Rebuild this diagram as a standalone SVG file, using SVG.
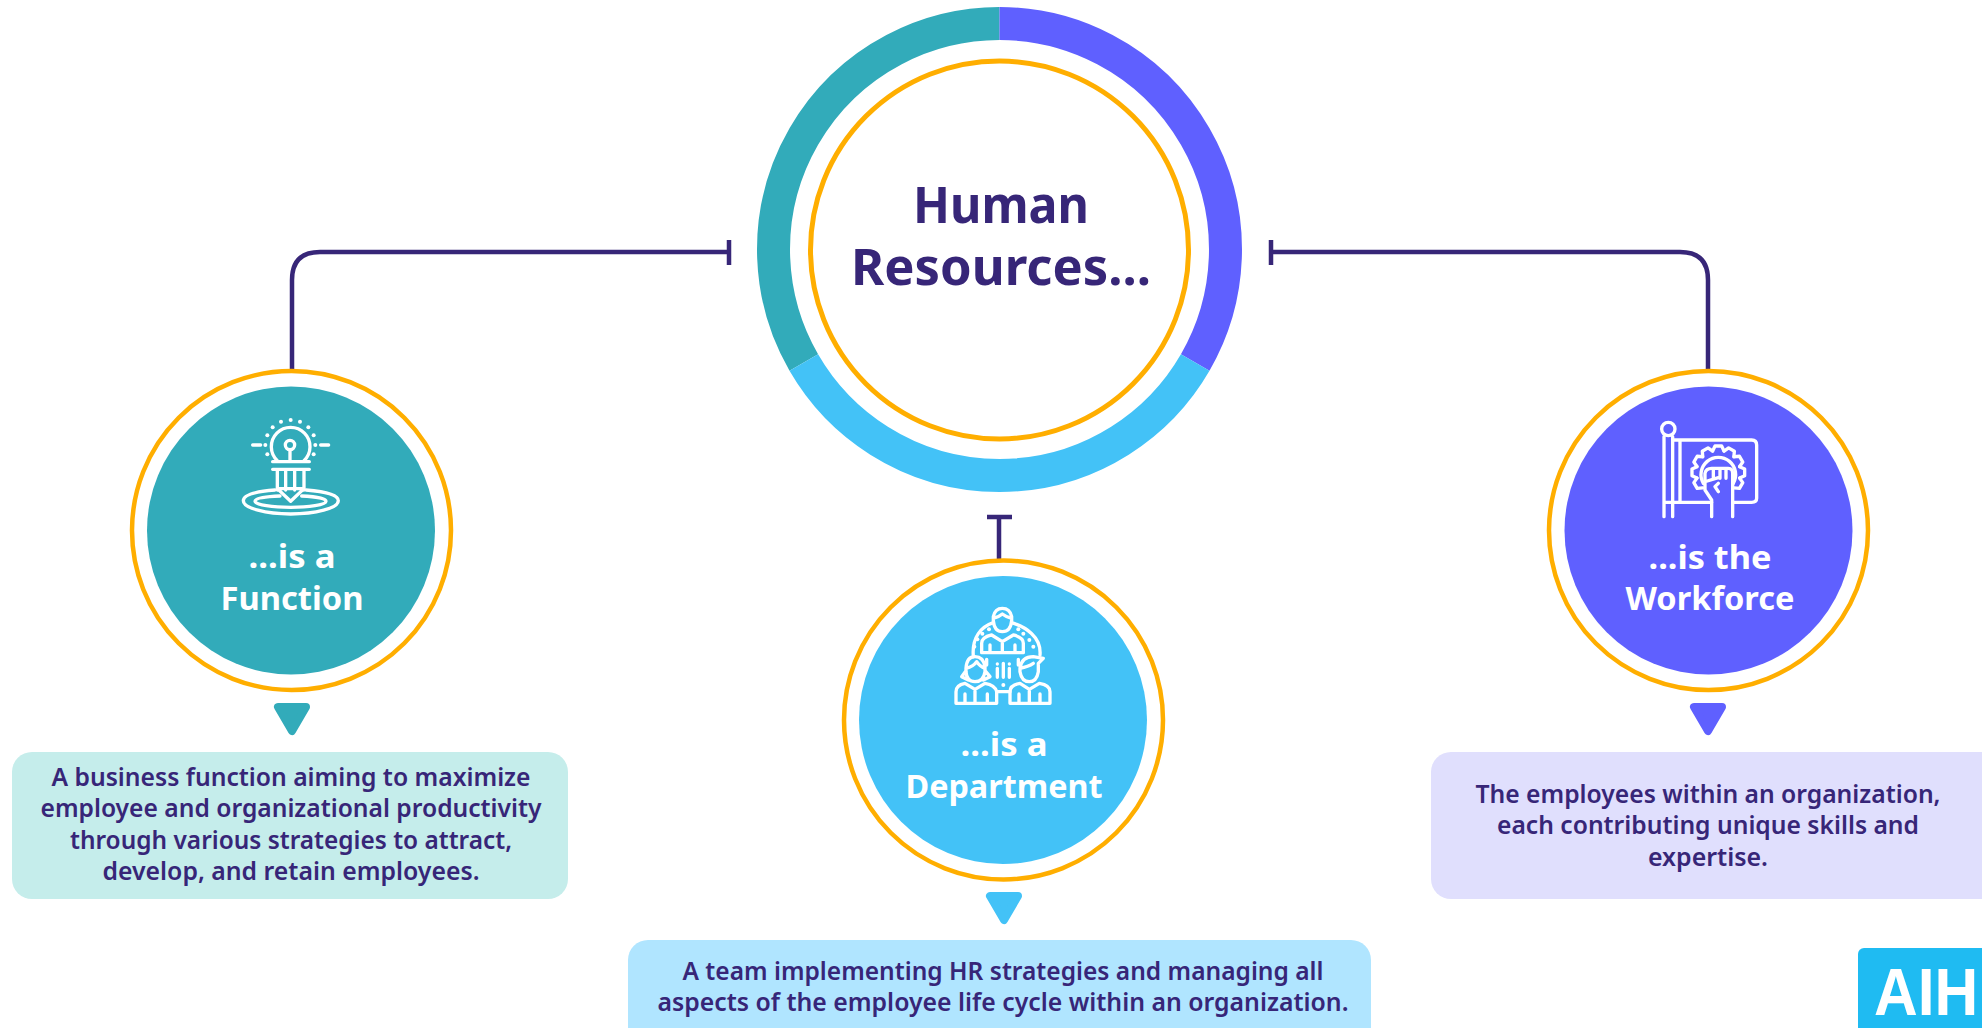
<svg xmlns="http://www.w3.org/2000/svg" xmlns:xlink="http://www.w3.org/1999/xlink" width="1982" height="1028" viewBox="0 0 1982 1028">
<style>
text{font-family:"Noto Sans","Open Sans","Liberation Sans",sans-serif;text-anchor:middle}
.hub{font-size:50px;font-weight:700;fill:#372678}
.lab{font-size:33px;font-weight:700;fill:#fff}
.body{font-size:25px;font-weight:600;fill:#372678}
.ring{fill:none;stroke:#ffae00;stroke-width:4.5}
.conn{fill:none;stroke:#372678;stroke-width:4.5}
.ico{fill:none;stroke:#fff;stroke-width:10;stroke-linecap:round;stroke-linejoin:round}
.dot{fill:#fff;stroke:none}
.tri{stroke-width:8;stroke-linejoin:round}
</style>
<defs>
<path id="tooth" d="M-17 -64L-10 -79H10L17 -64"/>
</defs>
<rect width="1982" height="1028" fill="#fff"/>
<g id="connectors">
<path class="conn" d="M292 370V280Q292 252 320 252H729M729 240V265"/>
<path class="conn" d="M1708 370V280Q1708 252 1680 252H1271M1271 240V265"/>
<path class="conn" d="M999 559V517M987 517H1012"/>
</g>
<g id="hub">
<path d="M999.5 23.5A226 226 0 0 0 803.8 362.5" fill="none" stroke="#32abba" stroke-width="33"/>
<path d="M999.5 23.5A226 226 0 0 1 1195.2 362.5" fill="none" stroke="#5f60ff" stroke-width="33"/>
<path d="M803.8 362.5A226 226 0 0 0 1195.2 362.5" fill="none" stroke="#43c2f7" stroke-width="33"/>
<circle cx="999.5" cy="250" r="189" fill="none" stroke="#ffae00" stroke-width="5"/>
<text class="hub" x="1001" y="223" textLength="176" lengthAdjust="spacingAndGlyphs">Human</text>
<text class="hub" x="1001" y="285" textLength="300" lengthAdjust="spacingAndGlyphs">Resources...</text>
</g>
<g id="node-function">
<circle class="ring" cx="291.5" cy="530.5" r="159.5"/>
<circle cx="291" cy="530.5" r="144" fill="#32abba"/>
<g transform="translate(220 410) scale(.3333)">
<g class="ico">
<path d="M172 152A58 58 0 1 1 252 152"/>
<circle cx="210" cy="105" r="14"/>
<path d="M210 119V150M158 155H268M158 178H268M172 178V240M197 178V240M224 178V240M252 178V240M172 236H252L212 274ZM98 105H122M302 105H326"/>
<path d="M165 240C100 245 70 255 70 272C70 295 140 312 212 312C285 312 355 295 355 272C355 255 320 245 258 240"/>
<path d="M180 258C130 260 105 265 105 274C105 285 160 292 212 292C265 292 318 285 318 274C318 265 290 260 245 258"/>
</g>
<g class="dot">
<circle cx="136" cy="105" r="6"/><circle cx="286" cy="105" r="6"/><circle cx="142" cy="76" r="6"/><circle cx="281" cy="76" r="6"/><circle cx="142" cy="133" r="6"/><circle cx="281" cy="133" r="6"/><circle cx="158" cy="52" r="6"/><circle cx="265" cy="52" r="6"/><circle cx="183" cy="35" r="6"/><circle cx="240" cy="35" r="6"/><circle cx="212" cy="30" r="6"/>
</g>
</g>
<text class="lab" x="292" y="568" textLength="87" lengthAdjust="spacingAndGlyphs">...is a</text>
<text class="lab" x="292" y="610" textLength="143" lengthAdjust="spacingAndGlyphs">Function</text>
<polygon class="tri" fill="#32abba" stroke="#32abba" points="278,707 306,707 292,731"/>
</g>
<g id="desc-function">
<rect x="12" y="752" width="556" height="147" rx="20" fill="#c5edeb"/>
<text class="body" x="291" y="786" textLength="479" lengthAdjust="spacingAndGlyphs">A business function aiming to maximize</text>
<text class="body" x="291" y="817" textLength="501" lengthAdjust="spacingAndGlyphs">employee and organizational productivity</text>
<text class="body" x="291" y="849" textLength="442" lengthAdjust="spacingAndGlyphs">through various strategies to attract,</text>
<text class="body" x="291" y="880" textLength="377" lengthAdjust="spacingAndGlyphs">develop, and retain employees.</text>
</g>
<g id="node-department">
<circle class="ring" cx="1003.5" cy="720" r="159.5"/>
<circle cx="1003" cy="720" r="144" fill="#43c2f7"/>
<g transform="translate(940 600) scale(.3333)">
<g class="ico">
<path d="M160 50Q165 25 187 25Q210 25 215 50V62Q212 95 187 95Q163 95 160 62ZM160 55Q175 52 187 42Q200 52 215 55"/>
<path d="M125 158V130Q125 112 155 105L187 125L220 105Q250 112 250 130V158ZM150 158V135M225 158V135M187 125V158"/>
<path d="M100 170C95 110 125 80 160 68M215 68C255 80 305 110 300 165"/>
<path d="M78 205Q80 170 105 170Q130 170 135 200V215Q130 245 105 245Q80 245 78 215ZM78 205Q100 200 110 185Q120 200 135 205M78 212L65 230L85 240M135 212L150 230L130 240"/>
<path d="M48 310V275Q48 255 75 250L105 268L135 250Q165 255 170 275V310ZM75 310V282M142 310V282M105 268V310"/>
<path d="M240 205Q245 170 280 170L310 175L295 190V215Q290 245 268 245Q245 245 240 215ZM240 205Q265 200 280 190"/>
<path d="M210 310V275Q210 255 240 250L268 268L298 250Q330 255 330 275V310ZM237 310V282M300 310V282M268 268V310"/>
<path d="M140 178V195M235 178V195M172 205V232M190 190V232M208 205V232M170 275H210"/>
</g>
<g class="dot">
<circle cx="112" cy="118" r="6"/><circle cx="127" cy="101" r="6"/><circle cx="147" cy="88" r="6"/><circle cx="235" cy="88" r="6"/><circle cx="250" cy="101" r="6"/><circle cx="268" cy="120" r="6"/><circle cx="103" cy="140" r="6"/><circle cx="280" cy="140" r="6"/><circle cx="172" cy="192" r="5"/><circle cx="208" cy="192" r="5"/><circle cx="190" cy="255" r="6"/>
</g>
</g>
<text class="lab" x="1004" y="756" textLength="87" lengthAdjust="spacingAndGlyphs">...is a</text>
<text class="lab" x="1004" y="798" textLength="197" lengthAdjust="spacingAndGlyphs">Department</text>
<polygon class="tri" fill="#43c2f7" stroke="#43c2f7" points="990,896 1018,896 1004,920"/>
</g>
<g id="desc-department">
<rect x="628" y="940" width="743" height="110" rx="20" fill="#b0e5ff"/>
<text class="body" x="1003" y="980" textLength="641" lengthAdjust="spacingAndGlyphs">A team implementing HR strategies and managing all</text>
<text class="body" x="1003" y="1011" textLength="691" lengthAdjust="spacingAndGlyphs">aspects of the employee life cycle within an organization.</text>
</g>
<g id="node-workforce">
<circle class="ring" cx="1708.5" cy="530.5" r="159.5"/>
<circle cx="1708.5" cy="530.5" r="144" fill="#5f60ff"/>
<g transform="translate(1650 415) scale(.3333)">
<g class="ico">
<circle cx="55" cy="42" r="20"/>
<path d="M42 65V305M68 65V305M42 262H68M90 75V262M68 75H305Q320 75 320 90V250Q320 262 305 262H248M68 262H185"/>
<g transform="translate(205 172)">
<use xlink:href="#tooth" href="#tooth" transform="rotate(0)"/>
<use xlink:href="#tooth" href="#tooth" transform="rotate(30)"/>
<use xlink:href="#tooth" href="#tooth" transform="rotate(60)"/>
<use xlink:href="#tooth" href="#tooth" transform="rotate(90)"/>
<use xlink:href="#tooth" href="#tooth" transform="rotate(120)"/>
<use xlink:href="#tooth" href="#tooth" transform="rotate(240)"/>
<use xlink:href="#tooth" href="#tooth" transform="rotate(270)"/>
<use xlink:href="#tooth" href="#tooth" transform="rotate(300)"/>
<use xlink:href="#tooth" href="#tooth" transform="rotate(330)"/>
</g>
<path d="M160 205A52 52 0 1 1 250 205"/>
<path d="M185 305V255L165 225V175Q168 160 185 160H235Q248 160 248 175V305M190 165V190M210 165V190M228 165V190M172 198L205 188M205 205L195 215L205 230"/>
</g>
</g>
<text class="lab" x="1710" y="569" textLength="123" lengthAdjust="spacingAndGlyphs">...is the</text>
<text class="lab" x="1710" y="610" textLength="169" lengthAdjust="spacingAndGlyphs">Workforce</text>
<polygon class="tri" fill="#5f60ff" stroke="#5f60ff" points="1694,707 1722,707 1708,731"/>
</g>
<g id="desc-workforce">
<rect x="1431" y="752" width="571" height="147" rx="20" fill="#e0dffd"/>
<text class="body" x="1708" y="803" textLength="465" lengthAdjust="spacingAndGlyphs">The employees within an organization,</text>
<text class="body" x="1708" y="834" textLength="422" lengthAdjust="spacingAndGlyphs">each contributing unique skills and</text>
<text class="body" x="1708" y="866" textLength="120" lengthAdjust="spacingAndGlyphs">expertise.</text>
</g>
<g id="logo">
<rect x="1858" y="948" width="150" height="100" rx="6" fill="#1fbbf2"/>
<text x="1874" y="1015" textLength="148" lengthAdjust="spacingAndGlyphs" style="text-anchor:start;font-family:'Liberation Sans',sans-serif;font-weight:700;font-size:67px;fill:#fff">AIHR</text>
</g>
</svg>
